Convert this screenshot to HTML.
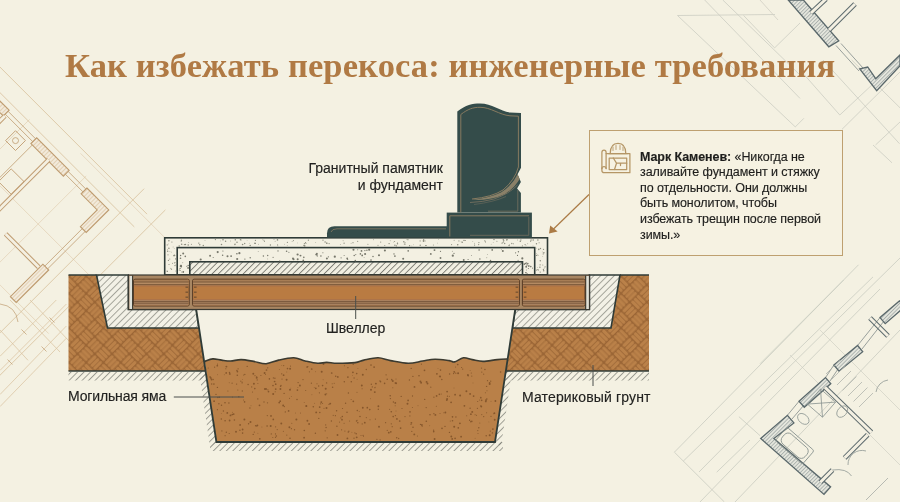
<!DOCTYPE html>
<html><head><meta charset="utf-8">
<style>
html,body{margin:0;padding:0;}
body{width:900px;height:502px;overflow:hidden;background:#f4f1e2;position:relative;font-family:"Liberation Sans",sans-serif;}
svg{position:absolute;left:0;top:0;}
.t{position:absolute;will-change:transform;white-space:nowrap;color:#222220;-webkit-text-stroke:0.15px #222220;}
#title{position:absolute;will-change:transform;left:64.8px;top:44.6px;line-height:40px;letter-spacing:0.12px;font-family:"Liberation Serif",serif;font-weight:bold;font-size:34.5px;color:#b07a44;white-space:nowrap;}
#callout{position:absolute;left:588.6px;top:130.1px;width:254.7px;height:126.4px;border:1.6px solid #bea070;background:#f6f2e2;box-sizing:border-box;}
.cl{position:absolute;will-change:transform;left:640px;font-size:12.5px;line-height:15px;letter-spacing:-0.08px;color:#1e1e1c;white-space:nowrap;-webkit-text-stroke:0.15px #1e1e1c;}
</style></head><body>
<svg width="900" height="502" viewBox="0 0 900 502">

<defs>
<pattern id="whatchT" patternUnits="userSpaceOnUse" width="3" height="3" patternTransform="rotate(45)"><rect width="3" height="3" fill="#f2eadb"/><line x1="0.5" y1="0" x2="0.5" y2="3" stroke="#dcc5a3" stroke-width="0.7"/></pattern>
<pattern id="whatchG" patternUnits="userSpaceOnUse" width="2.6" height="2.6" patternTransform="rotate(45)"><rect width="2.6" height="2.6" fill="#e6e7de"/><line x1="0.5" y1="0" x2="0.5" y2="2.6" stroke="#7f8a8a" stroke-width="0.55"/></pattern>
 <pattern id="hatch" patternUnits="userSpaceOnUse" width="4.8" height="4.8" patternTransform="rotate(45)">
   <rect width="4.8" height="4.8" fill="#f3f1e6"/>
   <line x1="0.5" y1="0" x2="0.5" y2="4.8" stroke="#707068" stroke-width="0.6"/>
 </pattern>
 <pattern id="hatch2" patternUnits="userSpaceOnUse" width="4.4" height="4.4" patternTransform="rotate(45)">
   <rect width="4.4" height="4.4" fill="#f1efe2"/>
   <line x1="0.5" y1="0" x2="0.5" y2="4.4" stroke="#55554f" stroke-width="0.7"/>
 </pattern>
 <pattern id="hatchbg" patternUnits="userSpaceOnUse" width="4.6" height="4.6" patternTransform="rotate(45)">
   <line x1="0.5" y1="0" x2="0.5" y2="4.6" stroke="#7a7b73" stroke-width="0.7"/>
 </pattern>
 <pattern id="soil" patternUnits="userSpaceOnUse" width="20" height="20" patternTransform="rotate(45) scale(1.22)">
   <rect width="20" height="20" fill="#9a6535"/>
   <g fill="#ba8149">
    <rect x="0.5" y="0.5" width="9" height="2.7" rx="1.2"/><rect x="0.5" y="3.8" width="9" height="2.7" rx="1.2"/><rect x="0.5" y="7.0" width="9" height="2.6" rx="1.2"/>
    <rect x="10.5" y="10.5" width="9" height="2.7" rx="1.2"/><rect x="10.5" y="13.8" width="9" height="2.7" rx="1.2"/><rect x="10.5" y="17.0" width="9" height="2.6" rx="1.2"/>
    <rect x="10.5" y="0.5" width="2.7" height="9" rx="1.2"/><rect x="13.8" y="0.5" width="2.7" height="9" rx="1.2"/><rect x="17.0" y="0.5" width="2.6" height="9" rx="1.2"/>
    <rect x="0.5" y="10.5" width="2.7" height="9" rx="1.2"/><rect x="3.8" y="10.5" width="2.7" height="9" rx="1.2"/><rect x="7.0" y="10.5" width="2.6" height="9" rx="1.2"/>
   </g>
 </pattern>
</defs>
<g id="bgdraw"><line x1="147.0" y1="214.1" x2="-15.6" y2="51.5" stroke="#d8c09c" stroke-width="0.8" opacity="1"/>
<line x1="134.3" y1="226.9" x2="-28.4" y2="64.3" stroke="#d8c09c" stroke-width="0.8" opacity="1"/>
<line x1="144.1" y1="188.7" x2="-39.7" y2="372.5" stroke="#d8c09c" stroke-width="0.8" opacity="1"/>
<line x1="165.4" y1="209.9" x2="-18.5" y2="393.7" stroke="#d8c09c" stroke-width="0.8" opacity="1"/>
<line x1="86.2" y1="176.0" x2="-60.9" y2="323.0" stroke="#d8c09c" stroke-width="0.6" opacity="0.8"/>
<line x1="29.6" y1="119.4" x2="-117.4" y2="266.5" stroke="#d8c09c" stroke-width="0.6" opacity="0.8"/>
<line x1="98.2" y1="284.1" x2="-75.0" y2="110.9" stroke="#d8c09c" stroke-width="0.6" opacity="0.8"/>
<line x1="48.7" y1="333.6" x2="-124.5" y2="160.4" stroke="#d8c09c" stroke-width="0.6" opacity="0.8"/>
<line x1="165.4" y1="238.2" x2="80.5" y2="153.3" stroke="#d8c09c" stroke-width="0.6" opacity="0.8"/>
<polygon points="69.2,170.3 36.7,137.8 30.9,143.6 63.4,176.1" fill="url(#whatchT)" stroke="#bf9c70" stroke-width="1.1" stroke-linejoin="miter"/>
<polygon points="9.1,110.2 -14.9,86.2 -20.7,92.0 3.3,116.0" fill="url(#whatchT)" stroke="#bf9c70" stroke-width="1.1" stroke-linejoin="miter"/>
<polygon points="48.7,270.0 16.2,302.5 10.4,296.7 42.9,264.2" fill="url(#whatchT)" stroke="#bf9c70" stroke-width="1.1" stroke-linejoin="miter"/>
<polygon points="86.9,188.0 108.8,209.9 86.2,232.5 80.4,226.7 97.2,209.9 81.1,193.8" fill="url(#whatchT)" stroke="#bf9c70" stroke-width="1.1" stroke-linejoin="miter"/>
<line x1="85.8" y1="189.0" x2="68.1" y2="171.4" stroke="#bf9c70" stroke-width="0.8" opacity="1"/>
<line x1="83.0" y1="191.9" x2="65.3" y2="174.2" stroke="#bf9c70" stroke-width="0.8" opacity="1"/>
<line x1="35.6" y1="138.8" x2="8.1" y2="111.3" stroke="#bf9c70" stroke-width="0.8" opacity="1"/>
<line x1="32.8" y1="141.7" x2="5.2" y2="114.1" stroke="#bf9c70" stroke-width="0.8" opacity="1"/>
<line x1="85.1" y1="231.5" x2="47.6" y2="268.9" stroke="#bf9c70" stroke-width="0.8" opacity="1"/>
<line x1="82.3" y1="228.6" x2="44.8" y2="266.1" stroke="#bf9c70" stroke-width="0.8" opacity="1"/>
<line x1="48.7" y1="159.7" x2="-2.9" y2="211.3" stroke="#bf9c70" stroke-width="4.800000000000001" opacity="1"/><line x1="48.7" y1="159.7" x2="-2.9" y2="211.3" stroke="#f4f0e2" stroke-width="2.8000000000000003" opacity="1"/>
<line x1="38.8" y1="267.2" x2="5.6" y2="233.9" stroke="#bf9c70" stroke-width="4.800000000000001" opacity="1"/><line x1="38.8" y1="267.2" x2="5.6" y2="233.9" stroke="#f4f0e2" stroke-width="2.8000000000000003" opacity="1"/>
<line x1="4.9" y1="115.9" x2="-18.5" y2="139.2" stroke="#bf9c70" stroke-width="4.800000000000001" opacity="1"/><line x1="4.9" y1="115.9" x2="-18.5" y2="139.2" stroke="#f4f0e2" stroke-width="2.8000000000000003" opacity="1"/>
<polygon points="25.4,140.6 15.5,130.7 5.6,140.6 15.5,150.5" fill="none" stroke="#bf9c70" stroke-width="0.9" stroke-linejoin="miter"/>
<circle cx="15.5" cy="140.6" r="3" fill="none" stroke="#bf9c70" stroke-width="0.8"/>
<polygon points="24.0,181.6 11.2,168.9 -1.5,181.6 11.2,194.3" fill="none" stroke="#bf9c70" stroke-width="0.9" stroke-linejoin="miter"/>
<line x1="32.4" y1="144.9" x2="-7.9" y2="185.2" stroke="#bf9c70" stroke-width="0.8" opacity="1"/>
<path d="M1.3 232.5 m-2 -16 a16 16 0 0 1 -12 14" fill="none" stroke="#bf9c70" stroke-width="0.8"/>
<line x1="0.0" y1="406.6" x2="66.4" y2="338.2" stroke="#d8c09c" stroke-width="0.7" opacity="1"/>
<line x1="0.0" y1="394.5" x2="66.4" y2="326.0" stroke="#d8c09c" stroke-width="0.7" opacity="1"/>
<line x1="0.0" y1="370.4" x2="66.4" y2="304.0" stroke="#d8c09c" stroke-width="0.7" opacity="1"/>
<line x1="0.0" y1="356.3" x2="56.3" y2="300.0" stroke="#d8c09c" stroke-width="0.7" opacity="1"/>
<line x1="0.0" y1="330.0" x2="28.0" y2="360.3" stroke="#d8c09c" stroke-width="0.7" opacity="1"/>
<line x1="10.0" y1="300.0" x2="60.0" y2="352.0" stroke="#d8c09c" stroke-width="0.7" opacity="1"/>
<line x1="30.0" y1="300.0" x2="70.0" y2="342.0" stroke="#d8c09c" stroke-width="0.7" opacity="1"/>
<line x1="7.5" y1="359.5" x2="12.5" y2="364.5" stroke="#bf9c70" stroke-width="0.7" opacity="1"/>
<line x1="41.5" y1="346.5" x2="46.5" y2="351.5" stroke="#bf9c70" stroke-width="0.7" opacity="1"/>
<line x1="21.5" y1="329.5" x2="26.5" y2="334.5" stroke="#bf9c70" stroke-width="0.7" opacity="1"/>
<line x1="49.5" y1="317.5" x2="54.5" y2="322.5" stroke="#bf9c70" stroke-width="0.7" opacity="1"/>
<path d="M0 304 q16 2 18 18" fill="none" stroke="#bf9c70" stroke-width="0.7"/>
<line x1="677.5" y1="15.5" x2="795.3" y2="126.9" stroke="#c9cbc0" stroke-width="0.75" opacity="1"/>
<line x1="704.7" y1="0.0" x2="800.0" y2="98.4" stroke="#c9cbc0" stroke-width="0.75" opacity="1"/>
<line x1="677.5" y1="15.5" x2="775.0" y2="14.5" stroke="#c9cbc0" stroke-width="0.75" opacity="1"/>
<line x1="743.6" y1="15.5" x2="774.6" y2="47.9" stroke="#c9cbc0" stroke-width="0.75" opacity="1"/>
<line x1="774.6" y1="47.9" x2="800.0" y2="23.0" stroke="#c9cbc0" stroke-width="0.75" opacity="1"/>
<line x1="722.8" y1="0.0" x2="800.0" y2="75.0" stroke="#c9cbc0" stroke-width="0.75" opacity="1"/>
<line x1="803.9" y1="74.3" x2="839.8" y2="115.0" stroke="#c9cbc0" stroke-width="0.75" opacity="1"/>
<line x1="839.8" y1="115.0" x2="875.6" y2="81.5" stroke="#c9cbc0" stroke-width="0.75" opacity="1"/>
<line x1="823.0" y1="60.0" x2="899.5" y2="143.7" stroke="#c9cbc0" stroke-width="0.75" opacity="1"/>
<line x1="842.0" y1="129.3" x2="900.0" y2="72.0" stroke="#c9cbc0" stroke-width="0.75" opacity="1"/>
<line x1="875.6" y1="144.9" x2="900.0" y2="122.0" stroke="#c9cbc0" stroke-width="0.75" opacity="1"/>
<line x1="873.0" y1="145.0" x2="892.0" y2="162.8" stroke="#c9cbc0" stroke-width="0.75" opacity="1"/>
<line x1="851.7" y1="60.0" x2="900.0" y2="107.8" stroke="#c9cbc0" stroke-width="0.75" opacity="1"/>
<line x1="795.3" y1="126.9" x2="803.9" y2="118.3" stroke="#c9cbc0" stroke-width="0.75" opacity="1"/>
<line x1="760.0" y1="0.0" x2="778.0" y2="20.0" stroke="#d0cfc4" stroke-width="0.8" opacity="1"/>
<polygon points="788.2,0.0 803.4,0.0 838.8,40.9 828.8,46.8" fill="url(#whatchG)" stroke="#5a686b" stroke-width="1.3" stroke-linejoin="miter"/>
<line x1="811.0" y1="13.0" x2="826.0" y2="-1.0" stroke="#5a686b" stroke-width="5.0" opacity="1"/><line x1="811.0" y1="13.0" x2="826.0" y2="-1.0" stroke="#f4f0e2" stroke-width="3.0" opacity="1"/>
<line x1="829.0" y1="30.0" x2="855.0" y2="4.0" stroke="#5a686b" stroke-width="5.0" opacity="1"/><line x1="829.0" y1="30.0" x2="855.0" y2="4.0" stroke="#f4f0e2" stroke-width="3.0" opacity="1"/>
<line x1="836.0" y1="45.5" x2="859.0" y2="71.0" stroke="#5a686b" stroke-width="0.6" opacity="1"/>
<line x1="841.0" y1="43.5" x2="863.0" y2="68.0" stroke="#5a686b" stroke-width="0.6" opacity="1"/>
<polygon points="859.7,68.8 876.7,90.7 900.0,65.8 900.0,55.0 875.7,78.7 867.7,67.0" fill="url(#whatchG)" stroke="#5a686b" stroke-width="1.3" stroke-linejoin="miter"/>
<line x1="674.4" y1="452.2" x2="858.5" y2="264.8" stroke="#c9cbc0" stroke-width="0.8" opacity="1"/>
<line x1="683.3" y1="461.1" x2="873.0" y2="276.9" stroke="#c9cbc0" stroke-width="0.8" opacity="1"/>
<line x1="674.4" y1="452.2" x2="724.4" y2="502.0" stroke="#c9cbc0" stroke-width="0.8" opacity="1"/>
<line x1="716.7" y1="472.2" x2="750.0" y2="440.0" stroke="#c9cbc0" stroke-width="0.8" opacity="1"/>
<line x1="738.9" y1="416.7" x2="760.0" y2="435.6" stroke="#c9cbc0" stroke-width="0.8" opacity="1"/>
<line x1="699.0" y1="472.0" x2="880.0" y2="289.0" stroke="#c9cbc0" stroke-width="0.8" opacity="1"/>
<line x1="760.0" y1="395.7" x2="900.0" y2="258.0" stroke="#c9cbc0" stroke-width="0.8" opacity="1"/>
<line x1="735.0" y1="502.0" x2="900.0" y2="330.0" stroke="#c9cbc0" stroke-width="0.8" opacity="1"/>
<line x1="700.0" y1="502.0" x2="760.0" y2="440.0" stroke="#c9cbc0" stroke-width="0.8" opacity="1"/>
<line x1="760.0" y1="363.7" x2="843.7" y2="280.0" stroke="#c9cbc0" stroke-width="0.7" opacity="1"/>
<line x1="820.0" y1="330.0" x2="900.0" y2="410.0" stroke="#c9cbc0" stroke-width="0.6" opacity="1"/>
<line x1="790.0" y1="355.0" x2="900.0" y2="465.0" stroke="#c9cbc0" stroke-width="0.6" opacity="1"/>
<polygon points="760.7,438.4 787.4,415.3 793.9,422.9 773.9,438.5 830.6,486.9 824.0,494.4" fill="url(#whatchG)" stroke="#5a686b" stroke-width="1.3" stroke-linejoin="miter"/>
<polygon points="799.0,401.3 825.5,377.6 830.8,383.6 804.3,407.3" fill="url(#whatchG)" stroke="#5a686b" stroke-width="1.3" stroke-linejoin="miter"/>
<polygon points="833.9,365.0 857.6,345.5 862.7,351.7 839.0,371.2" fill="url(#whatchG)" stroke="#5a686b" stroke-width="1.3" stroke-linejoin="miter"/>
<polygon points="880.0,317.6 899.4,300.9 904.6,307.0 885.2,323.7" fill="url(#whatchG)" stroke="#5a686b" stroke-width="1.3" stroke-linejoin="miter"/>
<line x1="825.0" y1="387.3" x2="871.4" y2="432.3" stroke="#5a686b" stroke-width="5.0" opacity="1"/><line x1="825.0" y1="387.3" x2="871.4" y2="432.3" stroke="#f4f0e2" stroke-width="3.0" opacity="1"/>
<line x1="867.7" y1="434.7" x2="844.6" y2="457.9" stroke="#5a686b" stroke-width="5.0" opacity="1"/><line x1="867.7" y1="434.7" x2="844.6" y2="457.9" stroke="#f4f0e2" stroke-width="3.0" opacity="1"/>
<line x1="832.5" y1="470.0" x2="820.3" y2="482.2" stroke="#5a686b" stroke-width="5.0" opacity="1"/><line x1="832.5" y1="470.0" x2="820.3" y2="482.2" stroke="#f4f0e2" stroke-width="3.0" opacity="1"/>
<line x1="870.0" y1="318.0" x2="888.0" y2="336.0" stroke="#5a686b" stroke-width="5.0" opacity="1"/><line x1="870.0" y1="318.0" x2="888.0" y2="336.0" stroke="#f4f0e2" stroke-width="3.0" opacity="1"/>
<line x1="787.4" y1="415.3" x2="799.0" y2="401.3" stroke="#5a686b" stroke-width="0.6" opacity="1"/>
<line x1="792.0" y1="419.0" x2="804.0" y2="405.0" stroke="#5a686b" stroke-width="0.6" opacity="1"/>
<line x1="825.5" y1="377.6" x2="833.9" y2="365.0" stroke="#5a686b" stroke-width="0.6" opacity="1"/>
<line x1="830.0" y1="381.0" x2="838.0" y2="369.0" stroke="#5a686b" stroke-width="0.6" opacity="1"/>
<line x1="857.6" y1="345.5" x2="880.0" y2="317.6" stroke="#5a686b" stroke-width="0.6" opacity="1"/>
<line x1="862.0" y1="349.0" x2="884.0" y2="321.0" stroke="#5a686b" stroke-width="0.6" opacity="1"/>
<g transform="translate(794.7 445.7) rotate(41)" fill="none" stroke="#8f9894" stroke-width="0.9"><rect x="-18" y="-9" width="36" height="18" rx="2"/><rect x="-15" y="-6.5" width="30" height="13" rx="5"/></g>
<g transform="translate(821.5 403.1) rotate(41)" fill="none" stroke="#8f9894" stroke-width="0.8"><rect x="-10" y="-10" width="20" height="20"/><path d="M-10 -10 L10 10 M10 -10 L-10 10"/></g>
<g fill="none" stroke="#8f9894" stroke-width="0.8"><ellipse cx="803.3" cy="418.9" rx="4.5" ry="6.5" transform="rotate(-49 803.3 418.9)"/><ellipse cx="842.2" cy="411.6" rx="4.5" ry="6.5" transform="rotate(41 842.2 411.6)"/></g>
<path d="M832.5 470 q14 -2 19 6" fill="none" stroke="#8f9894" stroke-width="0.8"/>
<line x1="840.0" y1="360.0" x2="826.0" y2="374.0" stroke="#a7aca6" stroke-width="0.7" opacity="1"/>
<line x1="845.5" y1="365.5" x2="831.5" y2="379.5" stroke="#a7aca6" stroke-width="0.7" opacity="1"/>
<line x1="851.0" y1="371.0" x2="837.0" y2="385.0" stroke="#a7aca6" stroke-width="0.7" opacity="1"/>
<line x1="856.5" y1="376.5" x2="842.5" y2="390.5" stroke="#a7aca6" stroke-width="0.7" opacity="1"/>
<line x1="862.0" y1="382.0" x2="848.0" y2="396.0" stroke="#a7aca6" stroke-width="0.7" opacity="1"/>
<line x1="867.5" y1="387.5" x2="853.5" y2="401.5" stroke="#a7aca6" stroke-width="0.7" opacity="1"/>
<line x1="873.0" y1="393.0" x2="859.0" y2="407.0" stroke="#a7aca6" stroke-width="0.7" opacity="1"/>
<path d="M866 451 a14 14 0 0 0 -18 14" fill="none" stroke="#8f9894" stroke-width="0.8"/>
<path d="M888 380 a14 14 0 0 0 -12 12" fill="none" stroke="#8f9894" stroke-width="0.8"/>
<path d="M866 500 l22 -22" fill="none" stroke="#a7aca6" stroke-width="0.8"/></g>

<path d="M68.5 372 H205.6 L207 380.5 H68.5 Z" fill="url(#hatchbg)"/>
<path d="M506 372 H649 V380.5 H504.7 Z" fill="url(#hatchbg)"/>
<path d="M205.6 371 L199 371 L210 447 L216.4 442 Z" fill="url(#hatchbg)"/>
<path d="M505.8 371 L512 371 L501 447 L495 442 Z" fill="url(#hatchbg)"/>
<path d="M210 442 H503 V451 H210 Z" fill="url(#hatchbg)"/>
<path d="M68.5 275 L96.5 275 L107.5 328 L199 328 L205.6 371 L68.5 371 Z" fill="url(#soil)"/>
<path d="M68.5 275 H96.5 M205.6 371 H68.5" fill="none" stroke="#2f3b37" stroke-width="1.7"/>
<path d="M620 275 L649 275 L649 371 L505.8 371 L512.4 328 L611 328 Z" fill="url(#soil)"/>
<path d="M620 275 H649 M649 371 H505.8" fill="none" stroke="#2f3b37" stroke-width="1.7"/>
<path d="M96.5 275 L128.3 275 L128.3 309.5 L196.2 309.5 L199 328 L107.5 328 Z" fill="url(#hatch)" stroke="#2f3b37" stroke-width="1.6"/>
<path d="M589.4 275 L620 275 L611 328 L512.4 328 L515.2 309.5 L589.4 309.5 Z" fill="url(#hatch)" stroke="#2f3b37" stroke-width="1.6"/>
<path d="M196.2 309.5 L515.2 309.5 L495 442 L216.5 442 Z" fill="#f4f1e4"/>
<path d="M204.8 361.4 C206.1 361.0 210.0 359.1 212.8 358.9 C215.6 358.7 218.7 359.8 221.7 360.1 C224.7 360.5 227.3 361.1 230.6 361.0 C233.8 360.9 237.3 359.5 241.2 359.6 C245.0 359.7 249.5 360.7 253.7 361.4 C257.9 362.1 262.0 363.9 266.1 363.7 C270.2 363.5 274.0 361.1 278.6 360.1 C283.2 359.1 289.3 357.7 293.7 357.8 C298.1 357.9 301.2 360.1 305.2 361.0 C309.2 361.9 314.1 363.1 317.7 363.3 C321.3 363.5 323.4 362.4 326.6 362.4 C329.9 362.4 332.5 363.3 337.2 363.3 C341.9 363.3 350.6 363.1 355.0 362.6 C359.4 362.1 360.0 360.9 363.9 360.1 C367.8 359.3 373.7 357.7 378.1 357.8 C382.6 357.9 385.6 359.7 390.6 360.6 C395.6 361.5 403.0 363.2 408.3 363.3 C413.6 363.4 418.2 361.7 422.6 361.0 C427.1 360.3 430.6 359.3 435.0 359.2 C439.4 359.1 445.9 360.2 449.2 360.6 C452.5 361.1 452.2 362.4 454.6 361.9 C457.0 361.4 460.4 358.2 463.4 357.8 C466.3 357.4 469.0 359.0 472.3 359.6 C475.6 360.2 478.9 361.4 483.0 361.4 C487.1 361.4 493.1 360.0 497.2 359.6 C501.3 359.2 506.1 359.0 507.9 358.9 L495 442 L216.5 442 Z" fill="#b98048"/>
<g fill="#87572c"><circle cx="254.8" cy="388.6" r="0.81"/><circle cx="366.3" cy="369.5" r="0.65"/><circle cx="357.9" cy="368.4" r="0.47"/><circle cx="232.5" cy="397.0" r="0.50"/><circle cx="449.4" cy="396.3" r="0.52"/><circle cx="392.8" cy="381.0" r="0.97"/><circle cx="326.5" cy="407.9" r="0.99"/><circle cx="461.6" cy="367.5" r="0.61"/><circle cx="243.7" cy="375.0" r="0.62"/><circle cx="267.1" cy="426.0" r="0.77"/><circle cx="319.8" cy="412.6" r="0.75"/><circle cx="225.8" cy="368.8" r="0.56"/><circle cx="335.4" cy="415.7" r="0.62"/><circle cx="342.5" cy="408.5" r="0.61"/><circle cx="411.0" cy="424.4" r="0.58"/><circle cx="362.8" cy="407.7" r="0.93"/><circle cx="296.4" cy="419.4" r="0.99"/><circle cx="331.7" cy="373.0" r="0.87"/><circle cx="352.5" cy="375.6" r="0.47"/><circle cx="430.0" cy="414.8" r="0.77"/><circle cx="304.3" cy="430.5" r="0.83"/><circle cx="378.3" cy="409.2" r="0.70"/><circle cx="478.8" cy="427.8" r="0.71"/><circle cx="232.3" cy="414.5" r="0.84"/><circle cx="494.4" cy="413.2" r="0.90"/><circle cx="322.6" cy="385.6" r="0.82"/><circle cx="344.4" cy="365.7" r="0.54"/><circle cx="226.2" cy="372.9" r="0.87"/><circle cx="281.7" cy="373.8" r="0.67"/><circle cx="239.9" cy="430.2" r="0.70"/><circle cx="464.4" cy="405.8" r="0.90"/><circle cx="294.5" cy="429.7" r="0.68"/><circle cx="466.4" cy="391.3" r="0.98"/><circle cx="260.9" cy="375.5" r="0.58"/><circle cx="351.3" cy="381.7" r="0.77"/><circle cx="211.7" cy="384.0" r="0.68"/><circle cx="374.8" cy="392.1" r="0.97"/><circle cx="360.0" cy="416.5" r="0.79"/><circle cx="230.5" cy="415.4" r="0.94"/><circle cx="459.9" cy="423.3" r="0.89"/><circle cx="326.7" cy="393.8" r="0.51"/><circle cx="232.4" cy="412.2" r="0.49"/><circle cx="257.2" cy="379.9" r="0.64"/><circle cx="208.2" cy="368.0" r="0.53"/><circle cx="315.6" cy="371.7" r="0.46"/><circle cx="387.2" cy="430.4" r="0.53"/><circle cx="311.4" cy="383.2" r="0.65"/><circle cx="458.1" cy="373.3" r="1.00"/><circle cx="351.1" cy="399.4" r="0.50"/><circle cx="309.4" cy="371.8" r="0.60"/><circle cx="261.9" cy="427.0" r="0.46"/><circle cx="363.5" cy="436.3" r="0.53"/><circle cx="221.5" cy="405.3" r="0.74"/><circle cx="455.1" cy="438.4" r="0.83"/><circle cx="317.0" cy="383.8" r="0.54"/><circle cx="364.8" cy="422.7" r="0.88"/><circle cx="275.7" cy="389.1" r="0.90"/><circle cx="452.2" cy="438.9" r="0.89"/><circle cx="422.2" cy="426.2" r="0.57"/><circle cx="314.6" cy="403.3" r="0.47"/><circle cx="290.5" cy="366.1" r="0.59"/><circle cx="483.7" cy="416.6" r="0.70"/><circle cx="489.7" cy="435.2" r="0.98"/><circle cx="275.2" cy="391.7" r="0.57"/><circle cx="269.4" cy="378.9" r="0.79"/><circle cx="449.5" cy="432.4" r="0.71"/><circle cx="440.0" cy="413.6" r="0.50"/><circle cx="470.9" cy="414.2" r="0.88"/><circle cx="349.6" cy="421.0" r="0.55"/><circle cx="309.1" cy="424.0" r="0.89"/><circle cx="327.2" cy="437.8" r="0.67"/><circle cx="417.4" cy="436.0" r="0.54"/><circle cx="253.3" cy="373.7" r="0.95"/><circle cx="257.4" cy="425.3" r="0.90"/><circle cx="398.7" cy="438.5" r="0.64"/><circle cx="251.0" cy="405.7" r="0.46"/><circle cx="396.7" cy="437.8" r="0.74"/><circle cx="337.5" cy="435.0" r="0.93"/><circle cx="275.6" cy="426.8" r="0.59"/><circle cx="280.6" cy="386.3" r="0.77"/><circle cx="332.2" cy="383.7" r="0.52"/><circle cx="315.4" cy="433.2" r="0.70"/><circle cx="470.1" cy="408.3" r="0.68"/><circle cx="356.2" cy="433.7" r="0.74"/><circle cx="218.9" cy="403.8" r="0.69"/><circle cx="210.8" cy="377.9" r="0.89"/><circle cx="347.9" cy="377.1" r="0.85"/><circle cx="306.4" cy="406.3" r="0.74"/><circle cx="436.3" cy="406.2" r="0.51"/><circle cx="284.4" cy="406.6" r="0.60"/><circle cx="357.8" cy="422.7" r="0.76"/><circle cx="470.7" cy="421.8" r="0.69"/><circle cx="357.3" cy="410.6" r="0.73"/><circle cx="342.3" cy="416.6" r="0.74"/><circle cx="481.7" cy="400.3" r="0.83"/><circle cx="477.8" cy="430.6" r="0.59"/><circle cx="481.3" cy="406.5" r="0.91"/><circle cx="244.8" cy="374.4" r="0.69"/><circle cx="279.3" cy="369.5" r="0.49"/><circle cx="435.4" cy="414.9" r="0.94"/><circle cx="419.0" cy="375.7" r="0.81"/><circle cx="467.9" cy="374.9" r="0.98"/><circle cx="487.5" cy="380.7" r="0.67"/><circle cx="495.4" cy="401.0" r="0.91"/><circle cx="335.7" cy="376.3" r="0.73"/><circle cx="267.9" cy="389.8" r="0.63"/><circle cx="221.3" cy="418.9" r="0.75"/><circle cx="217.8" cy="397.5" r="0.63"/><circle cx="359.2" cy="411.4" r="0.49"/><circle cx="434.6" cy="438.9" r="0.98"/><circle cx="286.8" cy="372.0" r="0.47"/><circle cx="291.8" cy="423.2" r="0.52"/><circle cx="473.6" cy="396.1" r="0.90"/><circle cx="253.9" cy="383.7" r="0.96"/><circle cx="412.4" cy="407.4" r="0.50"/><circle cx="411.2" cy="368.4" r="0.68"/><circle cx="484.9" cy="369.5" r="0.80"/><circle cx="240.1" cy="424.9" r="0.92"/><circle cx="462.7" cy="369.1" r="0.70"/><circle cx="371.0" cy="389.8" r="0.96"/><circle cx="248.1" cy="384.4" r="0.74"/><circle cx="242.1" cy="382.1" r="0.54"/><circle cx="267.7" cy="367.8" r="0.62"/><circle cx="430.8" cy="387.2" r="0.61"/><circle cx="264.0" cy="402.0" r="0.64"/><circle cx="281.8" cy="365.4" r="0.46"/><circle cx="370.0" cy="419.7" r="0.55"/><circle cx="479.7" cy="400.1" r="0.51"/><circle cx="336.9" cy="426.2" r="0.72"/><circle cx="326.1" cy="427.4" r="0.73"/><circle cx="491.0" cy="416.3" r="0.64"/><circle cx="413.0" cy="427.3" r="0.80"/><circle cx="311.9" cy="394.8" r="0.48"/><circle cx="229.8" cy="373.9" r="0.86"/><circle cx="257.9" cy="383.4" r="0.50"/><circle cx="458.3" cy="427.9" r="0.82"/><circle cx="281.0" cy="385.4" r="0.61"/><circle cx="257.8" cy="398.9" r="0.70"/><circle cx="489.7" cy="384.0" r="0.98"/><circle cx="283.2" cy="405.6" r="0.98"/><circle cx="314.2" cy="387.5" r="0.45"/><circle cx="348.4" cy="393.0" r="0.73"/><circle cx="357.1" cy="379.3" r="0.45"/><circle cx="236.6" cy="384.1" r="0.67"/><circle cx="214.6" cy="367.2" r="0.62"/><circle cx="380.6" cy="381.7" r="0.74"/><circle cx="399.7" cy="421.0" r="0.84"/><circle cx="325.2" cy="430.8" r="0.63"/><circle cx="259.8" cy="438.8" r="0.85"/><circle cx="227.3" cy="412.9" r="0.91"/><circle cx="390.8" cy="431.8" r="0.85"/><circle cx="255.6" cy="425.7" r="0.74"/><circle cx="451.1" cy="402.3" r="0.89"/><circle cx="379.0" cy="426.8" r="0.94"/><circle cx="409.9" cy="415.9" r="0.58"/><circle cx="247.2" cy="366.4" r="0.65"/><circle cx="454.4" cy="372.0" r="0.76"/><circle cx="391.3" cy="411.7" r="0.82"/><circle cx="214.1" cy="401.2" r="0.89"/><circle cx="356.5" cy="420.9" r="0.74"/><circle cx="233.7" cy="414.1" r="0.86"/><circle cx="232.1" cy="383.2" r="0.60"/><circle cx="273.3" cy="419.4" r="0.86"/><circle cx="354.0" cy="438.2" r="0.66"/><circle cx="408.1" cy="400.4" r="0.87"/><circle cx="396.0" cy="410.9" r="0.49"/><circle cx="283.6" cy="375.2" r="0.86"/><circle cx="375.3" cy="387.1" r="0.46"/><circle cx="287.5" cy="368.6" r="0.82"/><circle cx="405.0" cy="416.6" r="0.61"/><circle cx="345.6" cy="403.3" r="0.71"/><circle cx="471.3" cy="373.0" r="0.56"/><circle cx="475.1" cy="438.3" r="0.46"/><circle cx="447.1" cy="398.9" r="0.98"/><circle cx="289.5" cy="398.2" r="0.57"/><circle cx="276.3" cy="435.9" r="0.77"/><circle cx="362.8" cy="374.8" r="0.97"/><circle cx="449.6" cy="374.1" r="0.73"/><circle cx="411.8" cy="431.4" r="0.58"/><circle cx="351.9" cy="432.2" r="0.46"/><circle cx="353.2" cy="364.3" r="0.70"/><circle cx="251.7" cy="386.9" r="0.64"/><circle cx="454.0" cy="388.0" r="0.45"/><circle cx="450.3" cy="421.1" r="0.52"/><circle cx="414.3" cy="434.4" r="0.95"/><circle cx="318.7" cy="386.0" r="0.67"/><circle cx="380.1" cy="439.9" r="0.65"/><circle cx="291.3" cy="396.5" r="0.48"/><circle cx="454.1" cy="371.7" r="0.61"/><circle cx="286.8" cy="435.1" r="0.60"/><circle cx="267.5" cy="402.8" r="0.66"/><circle cx="461.1" cy="436.7" r="0.90"/><circle cx="472.2" cy="411.9" r="0.97"/><circle cx="418.0" cy="405.7" r="0.48"/><circle cx="342.0" cy="419.7" r="0.86"/><circle cx="295.5" cy="413.0" r="0.48"/><circle cx="253.2" cy="434.4" r="0.71"/><circle cx="297.4" cy="390.1" r="0.86"/><circle cx="290.0" cy="438.2" r="0.81"/><circle cx="372.3" cy="386.9" r="0.67"/><circle cx="256.7" cy="376.7" r="0.56"/><circle cx="354.9" cy="432.9" r="0.57"/><circle cx="492.4" cy="432.9" r="0.70"/><circle cx="265.5" cy="374.6" r="0.50"/><circle cx="237.8" cy="390.0" r="0.58"/><circle cx="375.9" cy="383.6" r="0.94"/><circle cx="331.4" cy="421.0" r="0.68"/><circle cx="320.7" cy="403.8" r="0.64"/><circle cx="290.1" cy="368.7" r="0.98"/><circle cx="356.7" cy="373.6" r="0.80"/><circle cx="277.2" cy="429.6" r="0.60"/><circle cx="326.6" cy="382.9" r="0.70"/><circle cx="451.3" cy="436.5" r="0.93"/><circle cx="217.3" cy="365.7" r="0.84"/><circle cx="348.3" cy="432.1" r="0.77"/><circle cx="323.5" cy="364.0" r="0.96"/><circle cx="454.2" cy="426.7" r="0.98"/><circle cx="242.1" cy="382.9" r="0.53"/><circle cx="407.5" cy="403.7" r="0.97"/><circle cx="396.9" cy="418.9" r="0.87"/><circle cx="370.4" cy="398.8" r="0.47"/><circle cx="281.3" cy="423.5" r="0.96"/><circle cx="300.5" cy="413.1" r="0.52"/><circle cx="395.3" cy="383.1" r="0.83"/><circle cx="229.5" cy="372.5" r="0.74"/><circle cx="324.0" cy="408.3" r="0.57"/><circle cx="217.4" cy="409.7" r="0.62"/><circle cx="486.8" cy="399.0" r="0.80"/><circle cx="348.9" cy="431.2" r="0.58"/><circle cx="489.6" cy="382.8" r="0.84"/><circle cx="217.4" cy="387.4" r="0.72"/><circle cx="333.2" cy="415.3" r="0.59"/><circle cx="475.1" cy="414.7" r="0.57"/><circle cx="307.8" cy="366.6" r="0.68"/><circle cx="271.0" cy="415.9" r="0.89"/><circle cx="357.1" cy="420.2" r="0.56"/><circle cx="304.1" cy="437.7" r="0.90"/><circle cx="274.6" cy="381.5" r="0.87"/><circle cx="486.6" cy="386.4" r="0.72"/><circle cx="274.9" cy="378.2" r="0.68"/><circle cx="481.8" cy="414.6" r="0.53"/><circle cx="273.2" cy="393.9" r="0.99"/><circle cx="224.3" cy="374.8" r="0.48"/><circle cx="470.1" cy="393.9" r="0.94"/><circle cx="494.7" cy="419.7" r="0.96"/><circle cx="264.9" cy="389.0" r="0.96"/><circle cx="225.1" cy="420.7" r="0.82"/><circle cx="319.4" cy="392.8" r="0.63"/><circle cx="210.3" cy="376.9" r="0.60"/><circle cx="487.0" cy="390.7" r="0.52"/><circle cx="275.5" cy="437.3" r="0.65"/><circle cx="445.0" cy="426.4" r="0.69"/><circle cx="347.9" cy="367.7" r="0.65"/><circle cx="271.3" cy="433.9" r="0.65"/><circle cx="226.3" cy="432.2" r="0.68"/><circle cx="429.7" cy="425.7" r="0.47"/><circle cx="226.4" cy="366.6" r="0.96"/><circle cx="427.5" cy="383.5" r="0.94"/><circle cx="290.0" cy="389.8" r="0.98"/><circle cx="288.6" cy="410.9" r="0.84"/><circle cx="290.8" cy="388.1" r="0.45"/><circle cx="471.8" cy="421.4" r="0.80"/><circle cx="225.1" cy="435.7" r="0.58"/><circle cx="486.0" cy="400.1" r="0.97"/><circle cx="284.1" cy="393.4" r="0.69"/><circle cx="477.7" cy="401.5" r="0.55"/><circle cx="421.9" cy="425.0" r="0.90"/><circle cx="385.6" cy="422.7" r="0.63"/><circle cx="315.8" cy="388.3" r="0.88"/><circle cx="266.5" cy="370.0" r="0.86"/><circle cx="229.2" cy="382.8" r="0.47"/><circle cx="306.3" cy="406.0" r="0.99"/><circle cx="490.3" cy="431.1" r="0.60"/><circle cx="236.9" cy="370.4" r="0.72"/><circle cx="340.9" cy="417.9" r="0.58"/><circle cx="390.2" cy="395.7" r="0.82"/><circle cx="452.5" cy="420.8" r="0.82"/><circle cx="455.8" cy="373.2" r="0.61"/><circle cx="319.7" cy="407.1" r="0.86"/><circle cx="282.0" cy="379.1" r="0.58"/><circle cx="468.2" cy="375.7" r="0.77"/><circle cx="325.7" cy="388.8" r="1.00"/><circle cx="279.2" cy="402.6" r="0.89"/><circle cx="493.8" cy="413.7" r="0.51"/><circle cx="446.8" cy="400.1" r="0.91"/><circle cx="229.2" cy="433.5" r="0.61"/><circle cx="264.6" cy="373.1" r="0.99"/><circle cx="477.4" cy="408.3" r="0.65"/><circle cx="341.6" cy="429.8" r="0.59"/><circle cx="479.8" cy="423.1" r="0.51"/><circle cx="389.6" cy="409.3" r="0.57"/><circle cx="252.5" cy="392.0" r="0.56"/><circle cx="384.6" cy="383.4" r="0.81"/><circle cx="213.2" cy="379.5" r="0.63"/><circle cx="267.3" cy="415.6" r="0.62"/><circle cx="441.8" cy="379.5" r="0.75"/><circle cx="238.1" cy="368.8" r="0.67"/><circle cx="395.2" cy="405.8" r="0.50"/><circle cx="412.9" cy="376.4" r="0.68"/><circle cx="299.9" cy="385.5" r="0.97"/><circle cx="374.9" cy="387.7" r="0.65"/><circle cx="460.1" cy="395.6" r="1.00"/><circle cx="268.5" cy="391.6" r="0.85"/><circle cx="211.6" cy="379.5" r="0.95"/><circle cx="447.5" cy="396.2" r="0.67"/><circle cx="344.9" cy="431.1" r="0.54"/><circle cx="371.0" cy="365.1" r="0.80"/><circle cx="242.6" cy="433.1" r="0.79"/><circle cx="357.0" cy="392.2" r="0.53"/><circle cx="361.8" cy="385.5" r="0.96"/><circle cx="352.9" cy="372.3" r="0.89"/><circle cx="272.8" cy="437.5" r="0.52"/><circle cx="486.2" cy="435.7" r="0.72"/><circle cx="481.5" cy="368.1" r="0.66"/><circle cx="388.8" cy="432.7" r="0.90"/><circle cx="439.4" cy="376.2" r="0.57"/><circle cx="455.1" cy="394.7" r="0.91"/><circle cx="273.4" cy="377.9" r="0.67"/><circle cx="322.6" cy="403.4" r="0.52"/><circle cx="421.1" cy="382.8" r="0.94"/><circle cx="374.1" cy="367.1" r="0.87"/><circle cx="455.6" cy="366.9" r="0.51"/><circle cx="369.8" cy="409.6" r="0.79"/><circle cx="332.6" cy="387.3" r="0.77"/><circle cx="401.2" cy="396.4" r="0.70"/><circle cx="219.3" cy="397.3" r="0.79"/><circle cx="280.2" cy="401.2" r="0.87"/><circle cx="344.1" cy="423.3" r="0.55"/><circle cx="243.6" cy="400.0" r="0.52"/><circle cx="238.8" cy="396.7" r="0.69"/><circle cx="225.0" cy="402.8" r="0.80"/><circle cx="424.5" cy="370.3" r="0.88"/><circle cx="228.9" cy="402.9" r="0.73"/><circle cx="485.4" cy="392.7" r="0.52"/><circle cx="492.9" cy="429.1" r="0.85"/><circle cx="270.7" cy="425.9" r="0.99"/><circle cx="485.8" cy="401.4" r="0.95"/><circle cx="440.1" cy="376.5" r="0.96"/><circle cx="311.7" cy="369.0" r="0.87"/><circle cx="471.8" cy="376.1" r="0.60"/><circle cx="256.8" cy="426.0" r="0.73"/><circle cx="275.5" cy="433.9" r="0.59"/><circle cx="304.2" cy="402.5" r="0.47"/><circle cx="256.7" cy="377.8" r="0.97"/><circle cx="466.7" cy="415.7" r="0.54"/><circle cx="248.6" cy="423.7" r="0.74"/><circle cx="316.2" cy="412.4" r="0.93"/><circle cx="378.4" cy="406.2" r="0.94"/><circle cx="500.6" cy="372.0" r="0.80"/><circle cx="441.2" cy="394.0" r="0.60"/><circle cx="376.9" cy="439.3" r="0.65"/><circle cx="339.6" cy="422.1" r="0.55"/><circle cx="229.6" cy="420.5" r="0.90"/><circle cx="396.1" cy="383.3" r="0.99"/><circle cx="402.0" cy="408.5" r="0.62"/><circle cx="217.5" cy="364.1" r="0.53"/><circle cx="336.6" cy="410.8" r="0.73"/><circle cx="254.3" cy="432.1" r="0.57"/><circle cx="221.3" cy="413.6" r="0.45"/><circle cx="242.3" cy="391.0" r="0.65"/><circle cx="380.0" cy="381.0" r="0.77"/><circle cx="391.8" cy="379.5" r="0.71"/><circle cx="483.7" cy="374.2" r="0.58"/><circle cx="237.3" cy="375.3" r="0.80"/><circle cx="433.6" cy="430.2" r="0.67"/><circle cx="213.9" cy="384.1" r="0.80"/><circle cx="313.3" cy="406.7" r="0.81"/><circle cx="480.8" cy="397.7" r="0.85"/><circle cx="473.0" cy="382.9" r="0.47"/><circle cx="329.0" cy="404.4" r="0.58"/><circle cx="438.0" cy="368.4" r="0.46"/><circle cx="480.7" cy="405.9" r="0.53"/><circle cx="387.2" cy="379.2" r="0.73"/><circle cx="443.9" cy="412.8" r="0.55"/><circle cx="297.9" cy="387.5" r="0.48"/><circle cx="433.7" cy="431.6" r="0.84"/><circle cx="457.7" cy="364.5" r="0.86"/><circle cx="424.7" cy="399.4" r="0.70"/><circle cx="240.8" cy="381.2" r="0.58"/><circle cx="307.1" cy="367.0" r="0.86"/><circle cx="452.5" cy="416.8" r="0.84"/><circle cx="371.3" cy="384.2" r="0.69"/><circle cx="362.2" cy="423.9" r="0.60"/><circle cx="486.6" cy="412.8" r="0.57"/><circle cx="221.9" cy="430.9" r="0.59"/><circle cx="426.6" cy="381.9" r="0.97"/><circle cx="307.4" cy="420.7" r="0.93"/><circle cx="280.4" cy="389.0" r="0.95"/><circle cx="410.0" cy="411.9" r="0.82"/><circle cx="347.4" cy="438.4" r="0.91"/><circle cx="455.9" cy="417.0" r="0.69"/><circle cx="375.4" cy="419.1" r="0.62"/><circle cx="391.4" cy="380.1" r="0.49"/><circle cx="257.9" cy="433.2" r="0.46"/><circle cx="481.8" cy="372.1" r="0.64"/><circle cx="217.6" cy="374.8" r="0.47"/><circle cx="393.2" cy="416.6" r="0.83"/><circle cx="234.4" cy="420.0" r="0.77"/><circle cx="447.1" cy="391.6" r="0.90"/><circle cx="236.0" cy="431.7" r="0.93"/><circle cx="478.0" cy="433.5" r="0.51"/><circle cx="242.5" cy="379.6" r="0.47"/><circle cx="442.0" cy="428.4" r="0.80"/><circle cx="392.2" cy="426.7" r="0.61"/><circle cx="237.4" cy="371.6" r="0.87"/><circle cx="303.0" cy="379.6" r="0.68"/><circle cx="283.7" cy="365.6" r="0.61"/><circle cx="318.8" cy="418.4" r="0.63"/><circle cx="356.7" cy="437.3" r="0.92"/><circle cx="223.4" cy="411.0" r="0.68"/><circle cx="433.9" cy="397.2" r="0.64"/><circle cx="366.3" cy="417.6" r="0.57"/><circle cx="242.6" cy="429.5" r="0.90"/><circle cx="209.9" cy="376.9" r="0.56"/><circle cx="488.9" cy="421.9" r="0.45"/><circle cx="353.3" cy="401.3" r="0.89"/><circle cx="354.1" cy="378.0" r="0.64"/><circle cx="289.4" cy="427.2" r="0.97"/><circle cx="273.0" cy="385.6" r="0.83"/><circle cx="244.6" cy="401.9" r="0.80"/><circle cx="440.5" cy="370.1" r="0.83"/><circle cx="391.3" cy="423.8" r="0.65"/><circle cx="325.4" cy="394.5" r="0.94"/><circle cx="470.1" cy="370.5" r="0.46"/><circle cx="286.6" cy="379.7" r="0.95"/><circle cx="321.3" cy="402.1" r="0.94"/><circle cx="344.3" cy="381.8" r="0.74"/><circle cx="426.3" cy="421.3" r="0.81"/><circle cx="305.7" cy="390.5" r="0.54"/><circle cx="400.6" cy="428.1" r="0.86"/><circle cx="337.8" cy="376.9" r="0.88"/><circle cx="249.9" cy="408.0" r="0.70"/><circle cx="283.4" cy="431.3" r="0.56"/><circle cx="414.5" cy="386.9" r="0.91"/><circle cx="255.0" cy="375.7" r="0.59"/><circle cx="362.1" cy="388.8" r="0.54"/><circle cx="266.0" cy="388.9" r="0.99"/><circle cx="244.4" cy="419.4" r="0.98"/><circle cx="321.7" cy="371.7" r="0.99"/><circle cx="420.5" cy="424.4" r="0.69"/><circle cx="396.0" cy="378.9" r="0.51"/><circle cx="323.1" cy="379.7" r="0.47"/><circle cx="439.3" cy="394.3" r="0.83"/><circle cx="393.4" cy="402.0" r="0.70"/><circle cx="386.1" cy="374.8" r="0.67"/><circle cx="469.6" cy="420.3" r="0.69"/><circle cx="426.2" cy="407.6" r="0.68"/><circle cx="420.4" cy="381.4" r="0.93"/><circle cx="411.4" cy="422.8" r="0.92"/><circle cx="395.4" cy="415.6" r="0.70"/><circle cx="392.8" cy="387.8" r="0.50"/><circle cx="436.6" cy="395.9" r="0.84"/><circle cx="285.3" cy="411.9" r="0.68"/><circle cx="390.4" cy="398.6" r="0.68"/><circle cx="476.5" cy="415.3" r="0.55"/><circle cx="433.9" cy="413.7" r="0.66"/><circle cx="491.0" cy="401.2" r="0.47"/><circle cx="259.5" cy="405.3" r="0.88"/><circle cx="361.0" cy="435.5" r="0.51"/><circle cx="367.3" cy="407.7" r="0.84"/><circle cx="395.3" cy="402.9" r="0.91"/><circle cx="330.2" cy="403.6" r="0.97"/><circle cx="409.4" cy="380.0" r="0.67"/><circle cx="250.5" cy="422.0" r="0.99"/><circle cx="227.9" cy="391.0" r="0.60"/><circle cx="216.0" cy="394.4" r="0.68"/><circle cx="412.5" cy="396.0" r="0.64"/><circle cx="275.7" cy="384.2" r="0.86"/><circle cx="363.1" cy="435.4" r="0.57"/><circle cx="325.7" cy="424.9" r="0.57"/><circle cx="436.9" cy="373.8" r="0.90"/><circle cx="347.0" cy="412.2" r="0.76"/><circle cx="490.7" cy="381.2" r="0.64"/><circle cx="445.4" cy="412.5" r="0.90"/><circle cx="297.0" cy="399.6" r="0.75"/><circle cx="453.6" cy="373.5" r="0.65"/><circle cx="291.4" cy="428.7" r="0.66"/><circle cx="334.2" cy="383.3" r="0.55"/><circle cx="421.4" cy="364.2" r="0.60"/><circle cx="298.1" cy="382.6" r="0.71"/></g>
<path d="M204.8 361.4 C206.1 361.0 210.0 359.1 212.8 358.9 C215.6 358.7 218.7 359.8 221.7 360.1 C224.7 360.5 227.3 361.1 230.6 361.0 C233.8 360.9 237.3 359.5 241.2 359.6 C245.0 359.7 249.5 360.7 253.7 361.4 C257.9 362.1 262.0 363.9 266.1 363.7 C270.2 363.5 274.0 361.1 278.6 360.1 C283.2 359.1 289.3 357.7 293.7 357.8 C298.1 357.9 301.2 360.1 305.2 361.0 C309.2 361.9 314.1 363.1 317.7 363.3 C321.3 363.5 323.4 362.4 326.6 362.4 C329.9 362.4 332.5 363.3 337.2 363.3 C341.9 363.3 350.6 363.1 355.0 362.6 C359.4 362.1 360.0 360.9 363.9 360.1 C367.8 359.3 373.7 357.7 378.1 357.8 C382.6 357.9 385.6 359.7 390.6 360.6 C395.6 361.5 403.0 363.2 408.3 363.3 C413.6 363.4 418.2 361.7 422.6 361.0 C427.1 360.3 430.6 359.3 435.0 359.2 C439.4 359.1 445.9 360.2 449.2 360.6 C452.5 361.1 452.2 362.4 454.6 361.9 C457.0 361.4 460.4 358.2 463.4 357.8 C466.3 357.4 469.0 359.0 472.3 359.6 C475.6 360.2 478.9 361.4 483.0 361.4 C487.1 361.4 493.1 360.0 497.2 359.6 C501.3 359.2 506.1 359.0 507.9 358.9" fill="none" stroke="#3b3a30" stroke-width="1.6"/>
<path d="M196.2 309.5 L216.4 442 L495 442 L515.2 309.5" fill="none" stroke="#2f3b37" stroke-width="1.8"/>


<rect x="164.7" y="237.8" width="382.8" height="37" fill="#f3f0e2" stroke="#2f3b37" stroke-width="1.6"/>
<rect x="177.2" y="247.6" width="357.5" height="27.2" fill="#f3f0e2" stroke="#2f3b37" stroke-width="1.6"/>
<rect x="189.8" y="261.8" width="332.7" height="13" fill="url(#hatch2)" stroke="#2f3b37" stroke-width="1.6"/>

<g fill="#8c8c7e"><circle cx="329.1" cy="243.6" r="0.65"/><circle cx="304.0" cy="245.5" r="0.73"/><circle cx="188.2" cy="244.9" r="0.76"/><circle cx="464.0" cy="240.4" r="0.72"/><circle cx="406.8" cy="239.6" r="0.36"/><circle cx="527.7" cy="243.8" r="0.46"/><circle cx="205.0" cy="240.4" r="0.46"/><circle cx="461.1" cy="241.8" r="0.42"/><circle cx="509.6" cy="244.6" r="0.43"/><circle cx="504.7" cy="243.5" r="0.70"/><circle cx="420.2" cy="245.3" r="0.70"/><circle cx="484.8" cy="240.8" r="0.66"/><circle cx="367.9" cy="244.3" r="0.55"/><circle cx="501.5" cy="243.1" r="0.47"/><circle cx="255.4" cy="240.4" r="0.57"/><circle cx="188.7" cy="242.5" r="0.41"/><circle cx="353.0" cy="242.7" r="0.59"/><circle cx="494.0" cy="239.5" r="0.73"/><circle cx="344.1" cy="243.2" r="0.65"/><circle cx="485.5" cy="241.9" r="0.54"/><circle cx="531.1" cy="240.0" r="0.64"/><circle cx="407.9" cy="239.7" r="0.62"/><circle cx="425.5" cy="245.6" r="0.50"/><circle cx="539.1" cy="242.8" r="0.57"/><circle cx="507.1" cy="239.7" r="0.67"/><circle cx="403.8" cy="241.7" r="0.74"/><circle cx="305.5" cy="242.6" r="0.59"/><circle cx="458.9" cy="240.9" r="0.55"/><circle cx="326.8" cy="243.1" r="0.72"/><circle cx="277.6" cy="244.9" r="0.53"/><circle cx="357.7" cy="241.3" r="0.58"/><circle cx="536.5" cy="243.8" r="0.71"/><circle cx="292.1" cy="241.6" r="0.48"/><circle cx="389.1" cy="243.6" r="0.70"/><circle cx="181.7" cy="244.2" r="0.75"/><circle cx="373.5" cy="239.8" r="0.49"/><circle cx="168.9" cy="240.7" r="0.76"/><circle cx="397.5" cy="243.8" r="0.71"/><circle cx="511.8" cy="243.5" r="0.63"/><circle cx="404.4" cy="244.0" r="0.62"/><circle cx="424.9" cy="240.9" r="0.65"/><circle cx="340.3" cy="244.5" r="0.40"/><circle cx="235.3" cy="239.7" r="0.70"/><circle cx="513.4" cy="243.8" r="0.52"/><circle cx="478.7" cy="244.6" r="0.60"/><circle cx="264.4" cy="241.5" r="0.54"/><circle cx="287.4" cy="242.3" r="0.64"/><circle cx="520.9" cy="239.9" r="0.61"/><circle cx="181.4" cy="240.3" r="0.71"/><circle cx="384.8" cy="245.5" r="0.55"/><circle cx="171.9" cy="242.0" r="0.62"/><circle cx="522.4" cy="245.9" r="0.56"/><circle cx="323.0" cy="240.2" r="0.64"/><circle cx="247.1" cy="240.5" r="0.36"/><circle cx="168.3" cy="243.9" r="0.40"/><circle cx="533.2" cy="240.1" r="0.74"/><circle cx="215.4" cy="239.6" r="0.67"/><circle cx="258.4" cy="244.3" r="0.43"/><circle cx="185.5" cy="244.5" r="0.67"/><circle cx="491.2" cy="244.2" r="0.39"/><circle cx="405.1" cy="244.1" r="0.56"/><circle cx="520.3" cy="241.2" r="0.78"/><circle cx="438.7" cy="239.6" r="0.36"/><circle cx="413.4" cy="244.8" r="0.39"/><circle cx="284.5" cy="244.2" r="0.42"/><circle cx="493.2" cy="242.7" r="0.38"/><circle cx="306.0" cy="243.2" r="0.55"/><circle cx="423.4" cy="240.4" r="0.71"/><circle cx="304.4" cy="243.7" r="0.63"/><circle cx="325.1" cy="242.0" r="0.70"/><circle cx="525.1" cy="244.6" r="0.61"/><circle cx="277.5" cy="239.9" r="0.79"/><circle cx="433.4" cy="244.9" r="0.50"/><circle cx="396.4" cy="245.9" r="0.72"/><circle cx="394.6" cy="241.5" r="0.54"/><circle cx="503.5" cy="241.9" r="0.66"/><circle cx="394.9" cy="245.3" r="0.71"/><circle cx="274.0" cy="239.5" r="0.47"/><circle cx="326.8" cy="243.3" r="0.72"/><circle cx="503.3" cy="239.8" r="0.72"/><circle cx="474.6" cy="245.1" r="0.61"/><circle cx="270.4" cy="245.0" r="0.71"/><circle cx="426.3" cy="245.4" r="0.51"/><circle cx="198.8" cy="243.1" r="0.71"/><circle cx="242.6" cy="244.4" r="0.77"/><circle cx="255.3" cy="243.4" r="0.65"/><circle cx="343.1" cy="240.8" r="0.46"/><circle cx="451.6" cy="244.6" r="0.56"/><circle cx="199.8" cy="244.7" r="0.70"/><circle cx="254.9" cy="243.3" r="0.75"/><circle cx="502.4" cy="242.9" r="0.56"/><circle cx="390.2" cy="240.7" r="0.44"/><circle cx="235.1" cy="244.1" r="0.51"/><circle cx="380.7" cy="242.1" r="0.58"/><circle cx="223.0" cy="239.8" r="0.80"/><circle cx="308.4" cy="240.2" r="0.63"/><circle cx="465.3" cy="240.5" r="0.62"/><circle cx="297.4" cy="242.9" r="0.36"/><circle cx="179.2" cy="245.9" r="0.74"/><circle cx="351.1" cy="243.2" r="0.47"/><circle cx="462.2" cy="242.3" r="0.78"/><circle cx="457.7" cy="244.8" r="0.78"/><circle cx="262.9" cy="239.7" r="0.44"/><circle cx="235.1" cy="240.0" r="0.37"/><circle cx="378.0" cy="245.2" r="0.56"/><circle cx="526.0" cy="245.4" r="0.38"/><circle cx="393.5" cy="242.1" r="0.40"/><circle cx="530.6" cy="241.2" r="0.60"/><circle cx="409.6" cy="245.7" r="0.65"/><circle cx="315.7" cy="242.4" r="0.42"/><circle cx="533.0" cy="245.9" r="0.45"/><circle cx="181.2" cy="241.2" r="0.51"/><circle cx="509.1" cy="245.4" r="0.73"/><circle cx="184.4" cy="244.6" r="0.67"/><circle cx="411.9" cy="245.9" r="0.38"/><circle cx="221.5" cy="244.4" r="0.77"/><circle cx="423.4" cy="241.4" r="0.62"/><circle cx="454.1" cy="240.2" r="0.50"/><circle cx="264.0" cy="240.3" r="0.57"/><circle cx="230.5" cy="241.0" r="0.41"/><circle cx="423.7" cy="239.6" r="0.67"/><circle cx="240.5" cy="239.7" r="0.77"/><circle cx="250.2" cy="245.6" r="0.74"/><circle cx="503.8" cy="240.4" r="0.55"/><circle cx="203.3" cy="245.5" r="0.73"/><circle cx="405.0" cy="242.4" r="0.50"/><circle cx="478.9" cy="242.6" r="0.63"/><circle cx="220.7" cy="240.9" r="0.38"/><circle cx="437.4" cy="243.1" r="0.42"/><circle cx="496.9" cy="241.2" r="0.54"/><circle cx="225.6" cy="241.3" r="0.73"/><circle cx="293.4" cy="240.6" r="0.57"/><circle cx="287.2" cy="245.4" r="0.40"/><circle cx="537.9" cy="239.9" r="0.75"/><circle cx="420.1" cy="240.9" r="0.56"/><circle cx="275.1" cy="241.2" r="0.44"/><circle cx="304.7" cy="245.9" r="0.80"/><circle cx="517.6" cy="240.1" r="0.48"/><circle cx="506.6" cy="239.9" r="0.68"/><circle cx="277.9" cy="245.9" r="0.36"/><circle cx="472.8" cy="241.7" r="0.41"/><circle cx="167.2" cy="244.9" r="0.59"/><circle cx="237.0" cy="242.3" r="0.76"/><circle cx="249.3" cy="243.2" r="0.41"/><circle cx="234.9" cy="244.5" r="0.67"/><circle cx="241.2" cy="240.0" r="0.39"/><circle cx="397.4" cy="242.7" r="0.47"/><circle cx="244.7" cy="243.5" r="0.67"/><circle cx="474.5" cy="243.3" r="0.44"/><circle cx="191.4" cy="244.3" r="0.53"/></g>
<g fill="#77776b"><circle cx="434.5" cy="250.1" r="0.97"/><circle cx="297.7" cy="259.2" r="1.01"/><circle cx="353.5" cy="249.7" r="1.04"/><circle cx="347.7" cy="259.5" r="0.59"/><circle cx="244.9" cy="259.1" r="0.66"/><circle cx="236.9" cy="253.8" r="0.82"/><circle cx="180.6" cy="255.5" r="0.71"/><circle cx="361.5" cy="250.9" r="0.90"/><circle cx="468.1" cy="259.5" r="0.62"/><circle cx="430.8" cy="253.9" r="0.93"/><circle cx="200.7" cy="259.5" r="1.07"/><circle cx="354.2" cy="255.4" r="0.77"/><circle cx="369.2" cy="249.7" r="1.08"/><circle cx="258.2" cy="251.6" r="0.47"/><circle cx="267.7" cy="258.9" r="0.42"/><circle cx="213.2" cy="257.5" r="0.54"/><circle cx="185.3" cy="256.4" r="0.80"/><circle cx="364.1" cy="257.6" r="0.47"/><circle cx="486.8" cy="257.7" r="0.43"/><circle cx="222.6" cy="255.2" r="0.75"/><circle cx="278.0" cy="250.9" r="0.68"/><circle cx="227.5" cy="256.3" r="1.00"/><circle cx="231.1" cy="256.1" r="0.92"/><circle cx="237.2" cy="259.0" r="1.06"/><circle cx="316.6" cy="254.3" r="0.99"/><circle cx="365.1" cy="254.0" r="1.06"/><circle cx="454.0" cy="253.4" r="0.57"/><circle cx="297.6" cy="254.5" r="1.09"/><circle cx="463.7" cy="260.0" r="0.97"/><circle cx="479.1" cy="250.1" r="0.76"/><circle cx="518.1" cy="260.2" r="0.57"/><circle cx="328.4" cy="256.8" r="0.66"/><circle cx="366.9" cy="250.3" r="0.70"/><circle cx="357.7" cy="249.7" r="0.50"/><circle cx="522.3" cy="258.4" r="1.06"/><circle cx="403.2" cy="258.8" r="1.02"/><circle cx="492.2" cy="249.9" r="0.85"/><circle cx="273.1" cy="257.3" r="0.59"/><circle cx="371.0" cy="260.1" r="0.83"/><circle cx="267.7" cy="255.5" r="0.70"/><circle cx="515.6" cy="252.8" r="0.61"/><circle cx="408.2" cy="250.9" r="0.82"/><circle cx="517.5" cy="255.4" r="0.59"/><circle cx="344.1" cy="255.6" r="0.50"/><circle cx="222.9" cy="251.0" r="0.61"/><circle cx="322.9" cy="252.8" r="0.57"/><circle cx="210.1" cy="255.8" r="0.99"/><circle cx="394.9" cy="256.1" r="0.86"/><circle cx="250.2" cy="257.7" r="0.72"/><circle cx="373.0" cy="256.5" r="0.73"/><circle cx="288.9" cy="252.3" r="0.56"/><circle cx="360.4" cy="253.9" r="0.81"/><circle cx="183.2" cy="253.6" r="1.00"/><circle cx="263.4" cy="255.9" r="0.74"/><circle cx="279.8" cy="260.9" r="0.61"/><circle cx="452.3" cy="251.3" r="0.45"/><circle cx="487.4" cy="254.6" r="0.44"/><circle cx="316.3" cy="254.6" r="0.91"/><circle cx="217.7" cy="252.1" r="1.07"/><circle cx="440.5" cy="251.3" r="0.64"/><circle cx="303.8" cy="257.3" r="0.83"/><circle cx="479.9" cy="258.9" r="0.76"/><circle cx="440.5" cy="258.0" r="0.93"/><circle cx="347.2" cy="258.5" r="0.90"/><circle cx="502.8" cy="251.0" r="1.01"/><circle cx="180.5" cy="258.3" r="0.81"/><circle cx="355.3" cy="260.6" r="0.80"/><circle cx="326.9" cy="258.5" r="1.01"/><circle cx="394.0" cy="253.9" r="0.72"/><circle cx="341.1" cy="257.8" r="0.61"/><circle cx="317.3" cy="255.9" r="0.67"/><circle cx="293.0" cy="258.6" r="0.99"/><circle cx="355.8" cy="254.6" r="0.53"/><circle cx="286.6" cy="251.2" r="0.80"/><circle cx="384.9" cy="250.5" r="1.04"/><circle cx="293.6" cy="259.2" r="0.99"/><circle cx="518.4" cy="251.8" r="0.70"/><circle cx="501.3" cy="249.6" r="0.43"/><circle cx="379.0" cy="255.2" r="1.04"/><circle cx="452.8" cy="255.7" r="1.10"/><circle cx="362.2" cy="255.4" r="0.88"/><circle cx="316.9" cy="253.6" r="0.82"/><circle cx="303.3" cy="260.4" r="0.87"/><circle cx="364.9" cy="250.6" r="0.66"/><circle cx="320.9" cy="256.0" r="0.80"/><circle cx="490.5" cy="260.6" r="0.74"/><circle cx="334.8" cy="256.7" r="1.10"/><circle cx="300.5" cy="255.6" r="0.97"/><circle cx="239.4" cy="253.2" r="1.08"/><circle cx="471.4" cy="255.4" r="0.48"/></g>
<g fill="#8c8c7e"><circle cx="175.0" cy="265.6" r="0.72"/><circle cx="175.9" cy="271.0" r="0.54"/><circle cx="168.0" cy="254.8" r="0.58"/><circle cx="171.3" cy="252.1" r="0.43"/><circle cx="172.5" cy="263.3" r="0.51"/><circle cx="175.9" cy="264.2" r="0.37"/><circle cx="170.4" cy="268.3" r="0.49"/><circle cx="173.1" cy="247.1" r="0.49"/><circle cx="174.5" cy="262.8" r="0.65"/><circle cx="168.4" cy="260.4" r="0.60"/><circle cx="169.0" cy="264.5" r="0.59"/><circle cx="176.0" cy="262.5" r="0.53"/><circle cx="167.7" cy="251.2" r="0.69"/><circle cx="167.5" cy="249.7" r="0.43"/><circle cx="171.5" cy="269.2" r="0.63"/><circle cx="174.2" cy="248.7" r="0.36"/><circle cx="173.8" cy="255.7" r="0.67"/><circle cx="169.9" cy="251.6" r="0.47"/><circle cx="167.4" cy="271.4" r="0.61"/><circle cx="169.8" cy="259.1" r="0.52"/><circle cx="167.0" cy="271.0" r="0.61"/><circle cx="175.6" cy="258.9" r="0.63"/><circle cx="168.9" cy="248.2" r="0.77"/><circle cx="174.6" cy="255.5" r="0.75"/><circle cx="174.3" cy="255.2" r="0.62"/></g>
<g fill="#77776b"><circle cx="188.1" cy="267.9" r="0.97"/><circle cx="181.3" cy="266.7" r="0.83"/><circle cx="181.1" cy="265.7" r="0.93"/><circle cx="183.6" cy="271.5" r="0.55"/><circle cx="180.6" cy="266.3" r="0.51"/><circle cx="188.2" cy="265.5" r="0.74"/><circle cx="180.1" cy="268.4" r="0.63"/><circle cx="182.8" cy="262.8" r="0.47"/><circle cx="186.8" cy="266.2" r="0.55"/><circle cx="180.8" cy="265.4" r="0.54"/><circle cx="179.3" cy="270.0" r="0.60"/><circle cx="180.5" cy="270.5" r="0.46"/><circle cx="181.6" cy="272.0" r="0.48"/><circle cx="183.2" cy="272.0" r="0.88"/><circle cx="180.5" cy="266.2" r="0.83"/></g>
<g fill="#77776b"><circle cx="527.1" cy="273.5" r="0.52"/><circle cx="532.5" cy="268.1" r="0.54"/><circle cx="527.8" cy="263.6" r="0.82"/><circle cx="526.0" cy="272.8" r="0.75"/><circle cx="527.0" cy="265.0" r="0.76"/><circle cx="525.5" cy="272.5" r="0.47"/><circle cx="528.4" cy="268.5" r="0.56"/><circle cx="530.8" cy="266.6" r="0.79"/><circle cx="528.9" cy="265.7" r="0.63"/><circle cx="524.3" cy="264.1" r="0.91"/><circle cx="526.5" cy="270.0" r="0.47"/><circle cx="528.8" cy="266.3" r="0.70"/><circle cx="526.3" cy="262.8" r="0.59"/><circle cx="525.7" cy="263.5" r="0.83"/><circle cx="526.2" cy="266.8" r="0.95"/></g>
<g fill="#8c8c7e"><circle cx="543.7" cy="270.8" r="0.74"/><circle cx="537.3" cy="254.5" r="0.36"/><circle cx="542.8" cy="264.9" r="0.51"/><circle cx="540.1" cy="264.8" r="0.66"/><circle cx="538.5" cy="269.9" r="0.51"/><circle cx="542.3" cy="251.9" r="0.40"/><circle cx="545.1" cy="266.8" r="0.67"/><circle cx="536.4" cy="248.1" r="0.42"/><circle cx="538.0" cy="255.2" r="0.52"/><circle cx="536.4" cy="255.4" r="0.64"/><circle cx="537.8" cy="269.7" r="0.61"/><circle cx="543.2" cy="253.9" r="0.55"/><circle cx="542.8" cy="256.4" r="0.35"/><circle cx="544.3" cy="268.0" r="0.48"/><circle cx="536.4" cy="270.1" r="0.62"/><circle cx="536.5" cy="253.6" r="0.40"/><circle cx="543.9" cy="252.7" r="0.76"/><circle cx="543.5" cy="249.3" r="0.66"/><circle cx="539.9" cy="267.2" r="0.72"/><circle cx="538.8" cy="249.4" r="0.78"/><circle cx="540.2" cy="272.1" r="0.66"/><circle cx="543.4" cy="269.4" r="0.63"/><circle cx="540.5" cy="248.5" r="0.66"/><circle cx="540.3" cy="260.8" r="0.77"/><circle cx="537.3" cy="267.6" r="0.37"/></g>

<rect x="128.5" y="275" width="461" height="34.5" fill="#a88662" stroke="#3a3a32" stroke-width="1.2"/>
<rect x="129.5" y="276" width="2.5" height="33" fill="#dde0d8"/>
<rect x="586.2" y="276" width="2.6" height="33" fill="#dde0d8"/>
<line x1="132.6" y1="275.5" x2="132.6" y2="309" stroke="#3a3a32" stroke-width="1.1"/>
<line x1="585.6" y1="275.5" x2="585.6" y2="309" stroke="#3a3a32" stroke-width="1.1"/>
<rect x="133.5" y="279.2" width="55.69999999999999" height="26.8" rx="1.5" fill="#b97b42" stroke="#553b26" stroke-width="1"/>
<rect x="134.1" y="279.8" width="54.499999999999986" height="6" fill="#a77d55"/>
<rect x="134.1" y="282.3" width="54.499999999999986" height="2" fill="#b48a62"/>
<rect x="134.1" y="299.8" width="54.499999999999986" height="5.6" fill="#a98260"/>
<g stroke="#6a4a30" stroke-width="0.7" fill="none"><path d="M134.1 282H188.6 M134.1 284.6H188.6 M134.1 301.5H188.6 M134.1 303.2H188.6"/></g>
<g stroke="#a8704a" stroke-width="0.8" fill="none"><path d="M134.1 286H188.6 M134.1 299.6H188.6"/></g>
<rect x="192.6" y="279.2" width="326.79999999999995" height="26.8" rx="1.5" fill="#b97b42" stroke="#553b26" stroke-width="1"/>
<rect x="193.2" y="279.8" width="325.59999999999997" height="6" fill="#a77d55"/>
<rect x="193.2" y="282.3" width="325.59999999999997" height="2" fill="#b48a62"/>
<rect x="193.2" y="299.8" width="325.59999999999997" height="5.6" fill="#a98260"/>
<g stroke="#6a4a30" stroke-width="0.7" fill="none"><path d="M193.2 282H518.8 M193.2 284.6H518.8 M193.2 301.5H518.8 M193.2 303.2H518.8"/></g>
<g stroke="#a8704a" stroke-width="0.8" fill="none"><path d="M193.2 286H518.8 M193.2 299.6H518.8"/></g>
<rect x="522.4" y="279.2" width="62.60000000000002" height="26.8" rx="1.5" fill="#b97b42" stroke="#553b26" stroke-width="1"/>
<rect x="523.0" y="279.8" width="61.40000000000002" height="6" fill="#a77d55"/>
<rect x="523.0" y="282.3" width="61.40000000000002" height="2" fill="#b48a62"/>
<rect x="523.0" y="299.8" width="61.40000000000002" height="5.6" fill="#a98260"/>
<g stroke="#6a4a30" stroke-width="0.7" fill="none"><path d="M523.0 282H584.4 M523.0 284.6H584.4 M523.0 301.5H584.4 M523.0 303.2H584.4"/></g>
<g stroke="#a8704a" stroke-width="0.8" fill="none"><path d="M523.0 286H584.4 M523.0 299.6H584.4"/></g>
<g fill="#7a5634">
 <rect x="185.5" y="286.5" width="2.6" height="1.4"/><rect x="185.5" y="291.5" width="2.6" height="1.4"/><rect x="185.5" y="296.5" width="2.6" height="1.4"/>
 <rect x="194" y="286.5" width="2.6" height="1.4"/><rect x="194" y="291.5" width="2.6" height="1.4"/><rect x="194" y="296.5" width="2.6" height="1.4"/>
 <rect x="515.6" y="286.5" width="2.6" height="1.4"/><rect x="515.6" y="291.5" width="2.6" height="1.4"/><rect x="515.6" y="296.5" width="2.6" height="1.4"/>
 <rect x="523.8" y="286.5" width="2.6" height="1.4"/><rect x="523.8" y="291.5" width="2.6" height="1.4"/><rect x="523.8" y="296.5" width="2.6" height="1.4"/>
</g>


<g>
 <path d="M327 237.5 V233.5 Q327 226.3 334.5 226.3 H448 V237.5 Z" fill="#344c4a"/>
 <path d="M331 232 Q332 228.8 337 228.8 H446" fill="none" stroke="#7f7762" stroke-width="1" opacity="0.9"/>
 <rect x="446.7" y="212.6" width="85.2" height="25" fill="#344c4a"/>
 <path d="M449.8 236.5 V215.8 H529" fill="none" stroke="#877a60" stroke-width="1"/>
 <path d="M470 235.3 H528.8 V217" fill="none" stroke="#7a7260" stroke-width="0.9" opacity="0.8"/>
 <path d="M457.3 212.6 V111.5 C466 105 472 103.6 480 103.6 C492 103.6 500 111.5 510 112.4 L521 112.9 V167.7 L517.6 174.2 L520.9 181.9 L517.1 188.5 L520.9 192.9 V212.6 Z" fill="#344c4a"/>
 <path d="M460.8 212.5 V114.5 C468 109 473 107.3 480 107.3 C491 107.3 499 114.8 510 115.8 L518.4 116.2 V167" fill="none" stroke="#877a60" stroke-width="1"/>
 <path d="M518.4 167 Q515 180 503 190 Q492 197 472 199" fill="none" stroke="#877a60" stroke-width="1"/>
 <path d="M517.6 174.2 Q512 186 501 192.5 Q489 198 472 200 Q492 200.5 505 194 Q515 187.5 519.6 179 Z" fill="#8a8068"/>
 <path d="M517.5 185 Q509 194 494 199 Q483 202 470 202.5" fill="none" stroke="#7d7562" stroke-width="0.8"/>
 <path d="M506 196.5 Q494 202 474 204.5" fill="none" stroke="#6f6d5e" stroke-width="0.6"/>
 <path d="M517.8 190 V211.2 H488" fill="none" stroke="#7d7562" stroke-width="0.9" opacity="0.8"/>
</g>

<g stroke="#4b4f4c" stroke-width="1">
 <line x1="355.7" y1="296" x2="355.7" y2="319"/>
 <line x1="173.8" y1="397" x2="244" y2="397"/>
 <line x1="593" y1="365" x2="593" y2="386"/>
</g>
<g stroke="#ab7b45" stroke-width="1.2" fill="#ab7b45">
 <line x1="589" y1="194.5" x2="553" y2="229.5"/>
 <path d="M549 233.4 L550.2 225.4 L557.6 231.6 Z" stroke="none"/>
</g>

</svg>
<svg width="900" height="502" viewBox="0 0 900 502" style="z-index:2"><g stroke="#b59666" stroke-width="1.25" fill="none" stroke-linejoin="round" stroke-linecap="round">
 <path d="M601.9 168.5 V152.3 Q601.9 150 604 150 Q606.1 150 606.1 152.3 V168.5"/>
 <path d="M601.9 168.5 Q601.9 166.5 604 166.5 Q606.1 166.5 606.1 168.5"/>
 <path d="M601.9 168.5 V170.5 Q601.9 172.7 604.2 172.7 H629.9 V153.6 H626.5"/>
 <path d="M606.1 153.6 H610"/>
 <rect x="609.2" y="158" width="17.5" height="11.5"/>
 <path d="M613.3 158 L616.5 163.2 L614.5 169.5 M616.5 163.2 H626.7 M620.5 163.2 V165.5"/>
 <path d="M610.2 153.6 Q610.2 143.3 618 143.3 Q625.8 143.3 625.8 153.6 Z" fill="#f6f2e2"/>
 <path d="M608.6 153.6 H627.4"/>
 <path d="M616 145.5 V149.5 M620 145.5 V149.5 M613 147 V150.5 M623 147 V150.5" stroke-width="0.9"/>
</g></svg>
<div id="title">Как избежать перекоса: инженерные требования</div>
<div class="t" style="left:243px;top:160.4px;font-size:14px;line-height:17.2px;text-align:right;width:200px;">Гранитный памятник<br>и фундамент</div>
<div class="t" style="left:326px;top:319.65px;font-size:14px;line-height:17px;">Швеллер</div>
<div class="t" style="left:68px;top:388.45px;font-size:14px;line-height:17px;letter-spacing:-0.15px">Могильная яма</div>
<div class="t" style="left:522px;top:388.65px;font-size:14px;line-height:17px;letter-spacing:0.15px">Материковый грунт</div>
<div id="callout"></div>
<div class="cl" style="top:149.60px"><b>Марк Каменев:</b> «Никогда не</div><div class="cl" style="top:165.20px">заливайте фундамент и стяжку</div><div class="cl" style="top:180.80px">по отдельности. Они должны</div><div class="cl" style="top:196.40px">быть монолитом, чтобы</div><div class="cl" style="top:212.00px">избежать трещин после первой</div><div class="cl" style="top:227.60px">зимы.»</div>
</body></html>
